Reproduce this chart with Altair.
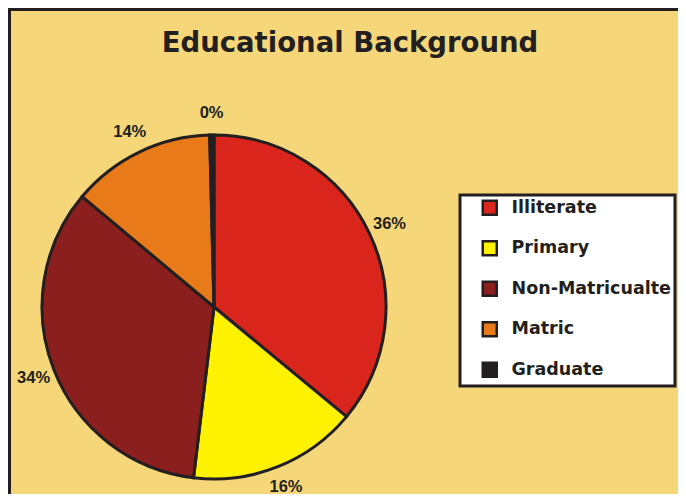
import altair as alt
import pandas as pd

categories = ["Illiterate", "Primary", "Non-Matricualte", "Matric", "Graduate"]
shares = [36.0, 15.9, 34.2, 13.5, 0.4]
labels = ["36%", "16%", "34%", "14%", "0%"]
colors = ["#DA251D", "#FFF200", "#8B1F1D", "#E87A1A", "#231F20"]
title_text = "Educational Background"

W, H = 670, 486
CX, CY = 206, 299

df = pd.DataFrame({"category": categories, "share": shares, "label": labels,
                   "idx": list(range(len(categories)))})

color = alt.Color(
    "category:N",
    scale=alt.Scale(domain=categories, range=colors),
    sort=categories,
    legend=alt.Legend(
        title=None, orient="none", legendX=452, legendY=187,
        fillColor="white", strokeColor="#231F20", padding=4, rowPadding=15.5,
        symbolType="square", symbolSize=196, symbolStrokeColor="#231F20",
        symbolStrokeWidth=2.5, labelFont="DejaVu Sans", labelFontSize=17.5,
        labelFontWeight="bold", labelColor="#231F20", labelOffset=13,
        symbolOffset=17, symbolOpacity=1,
    ),
)

base = alt.Chart(df).encode(
    theta=alt.Theta("share:Q", stack=True),
    order=alt.Order("idx:Q"),
)

pie = base.mark_arc(outerRadius=172, stroke="#231F20", strokeWidth=3).encode(
    color=color, x=alt.value(CX), y=alt.value(CY)
)

text = base.mark_text(
    radius=194, font="Liberation Sans", fontWeight="bold", fontSize=16.5,
    color="#231F20",
).encode(text="label:N", x=alt.value(CX), y=alt.value(CY))

title_df = pd.DataFrame({"t": [title_text]})
title = alt.Chart(title_df).mark_text(
    font="DejaVu Sans", fontSize=27.5, fontWeight="bold", color="#231F20",
    baseline="middle", align="center",
).encode(text="t:N", x=alt.value(342), y=alt.value(36))

left_border = alt.Chart(title_df).mark_rule(color="#231F20", strokeWidth=3).encode(
    x=alt.value(1.5), y=alt.value(0), y2=alt.value(H)
)
top_border = alt.Chart(title_df).mark_rule(color="#231F20", strokeWidth=3).encode(
    y=alt.value(1.5), x=alt.value(0), x2=alt.value(W)
)

chart = (
    alt.layer(pie, text, title, left_border, top_border)
    .properties(width=W, height=H, background="#F5D77A", padding=0, autosize="none")
    .configure_view(stroke=None, fill="#F5D77A")
    .configure_legend(strokeWidth=3)
)

chart.save("out.html", embed_options={"renderer": "svg", "actions": False})
